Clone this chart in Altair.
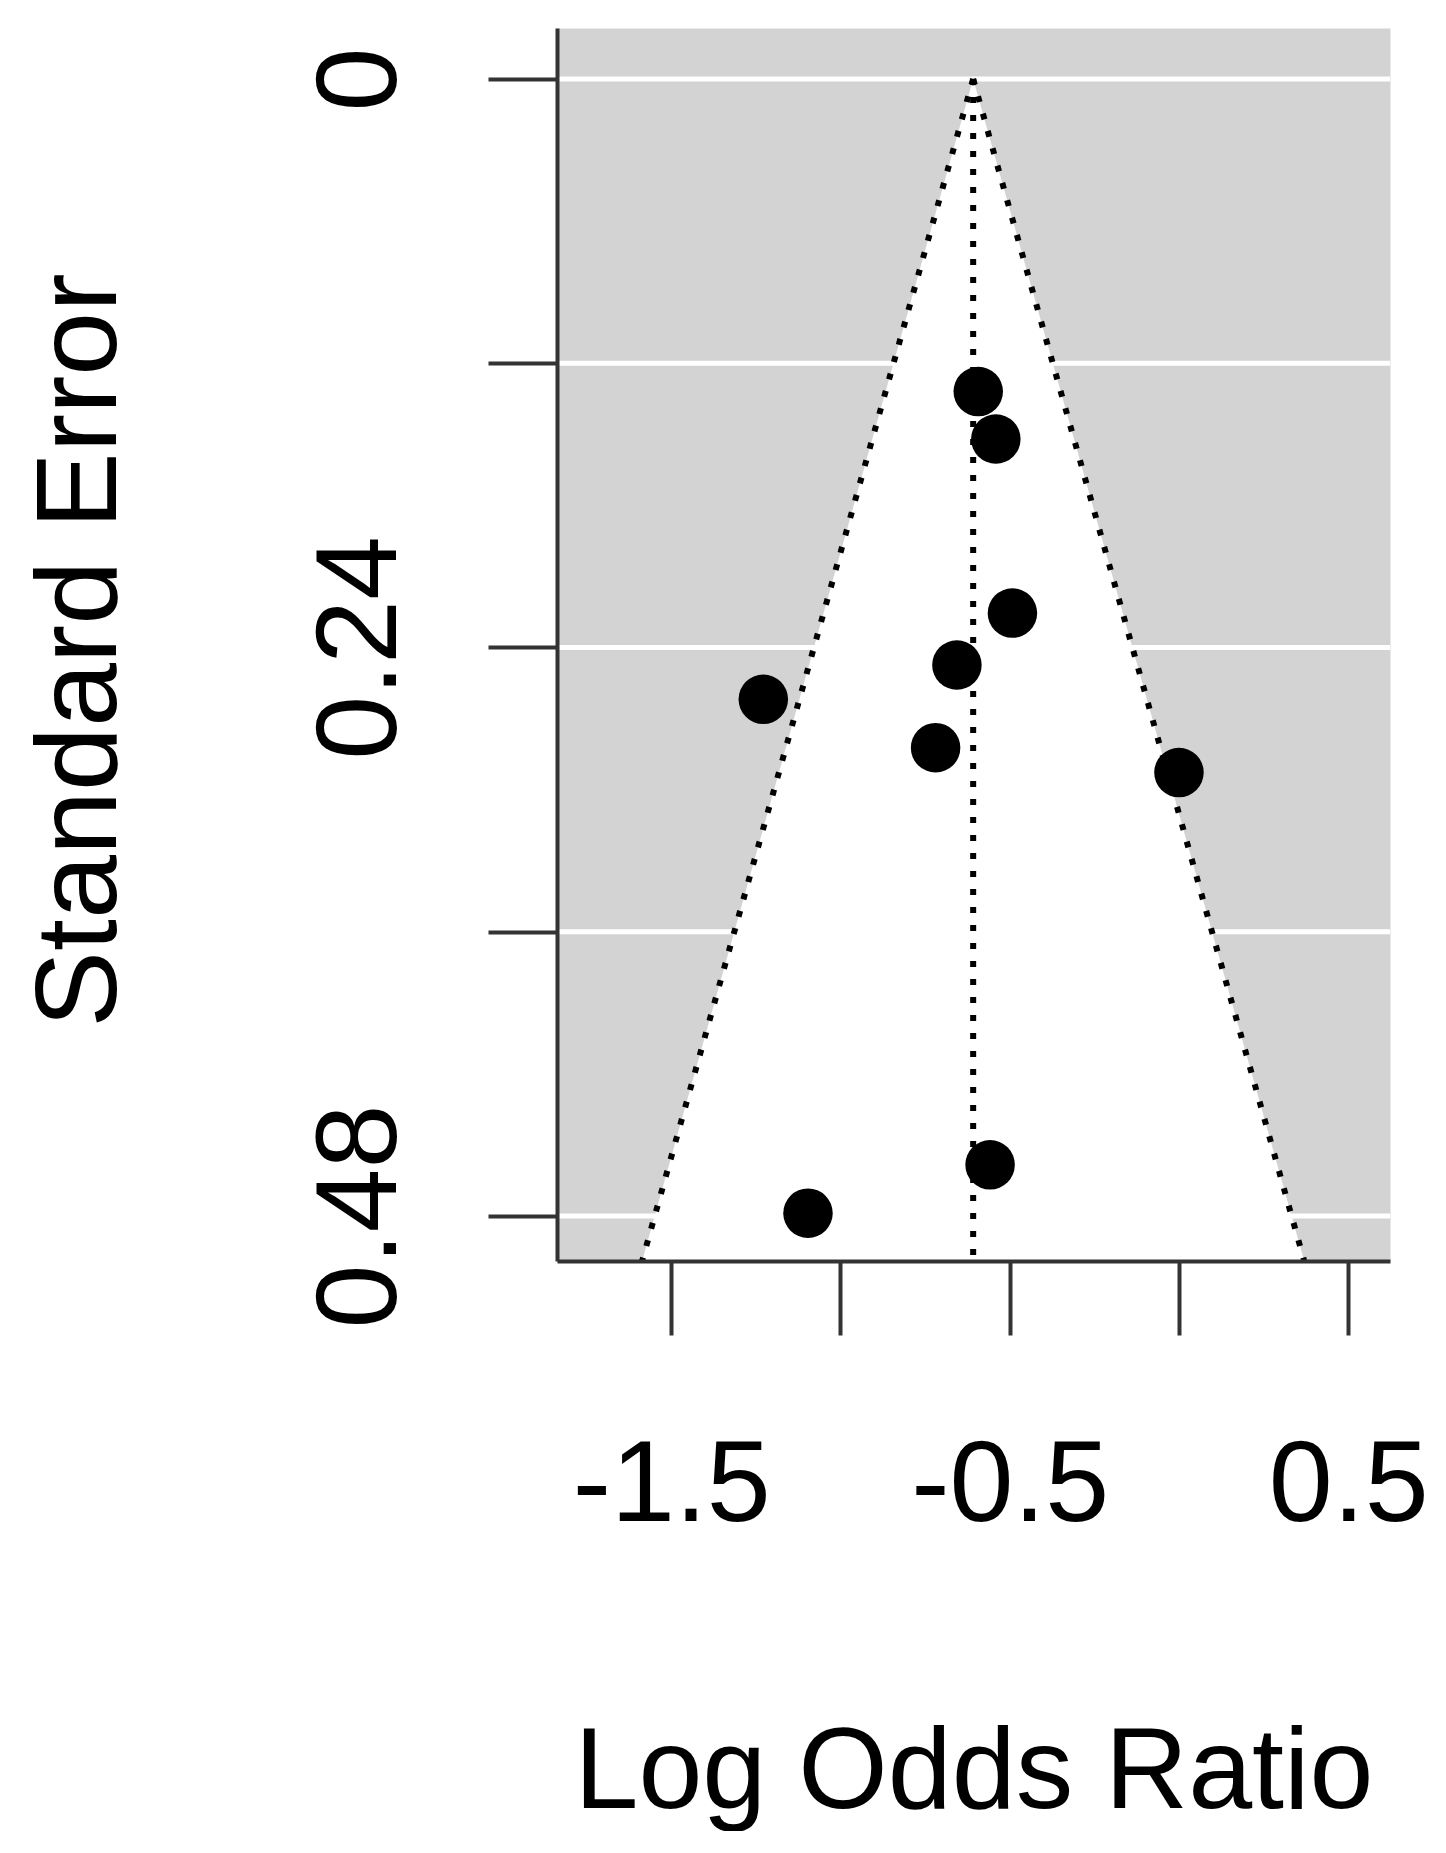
import altair as alt
import pandas as pd

# ---- data ----
log_odds_ratio = [-0.593, -0.541, -0.492, -0.656, -1.228, -0.719, 0.000, -0.558, -1.096]
standard_error = [0.132, 0.152, 0.2255, 0.2474, 0.2619, 0.2823, 0.2928, 0.4584, 0.4788]
pooled_estimate = -0.608
z_crit = 1.96

x_domain = [-1.8375, 0.6235]
y_domain = [-0.0215, 0.499]

x_tick_values = [-1.5, -1.0, -0.5, 0.0, 0.5]
x_tick_labels = ["-1.5", "", "-0.5", "", "0.5"]
y_tick_values = [0.0, 0.12, 0.24, 0.36, 0.48]
y_tick_labels = ["0", "", "0.24", "", "0.48"]

FONT = "Liberation Sans"
AXIS_COLOR = "#333333"
BG_GRAY = "#D3D3D3"
W, H = 833, 1233


def label_expr(values, labels):
    expr = "''"
    for v, lab in reversed(list(zip(values, labels))):
        expr = f"(abs(datum.value - ({v})) < 1e-9 ? '{lab}' : {expr})"
    return expr


points = pd.DataFrame({"yi": log_odds_ratio, "sei": standard_error})

se_bottom = y_domain[1]
funnel = pd.DataFrame({
    "sei": [0.0, se_bottom],
    "lo": [pooled_estimate - z_crit * s for s in [0.0, se_bottom]],
    "hi": [pooled_estimate + z_crit * s for s in [0.0, se_bottom]],
})

edges = pd.DataFrame({
    "x1": [pooled_estimate] * 3,
    "y1": [0.0] * 3,
    "x2": [pooled_estimate - z_crit * se_bottom, pooled_estimate, pooled_estimate + z_crit * se_bottom],
    "y2": [se_bottom] * 3,
})

grid = pd.DataFrame({"g": y_tick_values})

xscale = alt.Scale(domain=x_domain, nice=False, zero=False)
yscale = alt.Scale(domain=y_domain, nice=False, zero=False, reverse=True)

x_axis = alt.Axis(
    values=x_tick_values,
    labelExpr=label_expr(x_tick_values, x_tick_labels),
    grid=False,
    tickSize=74, tickWidth=4, tickColor=AXIS_COLOR,
    domainColor=AXIS_COLOR, domainWidth=4,
    labelFont=FONT, labelFontSize=115, labelColor="black", labelLimit=1000,
    labelPadding=94, labelBaseline="top", labelAlign="center",
    labelOverlap=False, labelFlush=False, labelBound=False,
    title="Log Odds Ratio",
    titleFont=FONT, titleFontSize=115, titleFontWeight="normal", titleColor="black",
    titleX=W / 2, titleY=546, titleBaseline="alphabetic", titleAlign="center",
    zindex=1,
)

y_axis = alt.Axis(
    values=y_tick_values,
    labelExpr=label_expr(y_tick_values, y_tick_labels),
    grid=False,
    tickSize=69, tickWidth=4, tickColor=AXIS_COLOR,
    domainColor=AXIS_COLOR, domainWidth=4,
    labelFont=FONT, labelFontSize=115, labelColor="black", labelLimit=1000,
    labelAngle=270, labelAlign="center", labelBaseline="alphabetic",
    labelPadding=93,
    labelOverlap=False, labelFlush=False, labelBound=False,
    title="Standard Error",
    titleFont=FONT, titleFontSize=115, titleFontWeight="normal", titleColor="black",
    titleAngle=270, titleX=-442, titleY=622, titleBaseline="alphabetic", titleAlign="center",
    zindex=1,
)

grid_layer = alt.Chart(grid).mark_rule(color="white", strokeWidth=5).encode(
    y=alt.Y("g:Q", scale=yscale, axis=y_axis),
    x=alt.value(0), x2=alt.value(W),
)

funnel_layer = alt.Chart(funnel).mark_area(color="white", opacity=1, orient="horizontal", clip=True).encode(
    y=alt.Y("sei:Q", scale=yscale),
    x=alt.X("lo:Q", scale=xscale, axis=x_axis),
    x2="hi:Q",
)

edge_layer = alt.Chart(edges).mark_rule(
    color="#000000", strokeWidth=6, strokeDash=[6, 12], clip=True
).encode(
    x=alt.X("x1:Q", scale=xscale),
    y=alt.Y("y1:Q", scale=yscale),
    x2="x2:Q",
    y2="y2:Q",
)

point_layer = alt.Chart(points).mark_circle(color="black", size=2450, opacity=1).encode(
    x=alt.X("yi:Q", scale=xscale),
    y=alt.Y("sei:Q", scale=yscale),
)

chart = alt.layer(grid_layer, funnel_layer, edge_layer, point_layer).properties(
    width=W, height=H,
    autosize=alt.AutoSizeParams(type="none"),
    padding={"left": 549, "top": 20, "right": 40, "bottom": 570},
).configure_view(fill=BG_GRAY, stroke="transparent")

chart.save("out.html", embed_options={"renderer": "svg", "actions": False})
